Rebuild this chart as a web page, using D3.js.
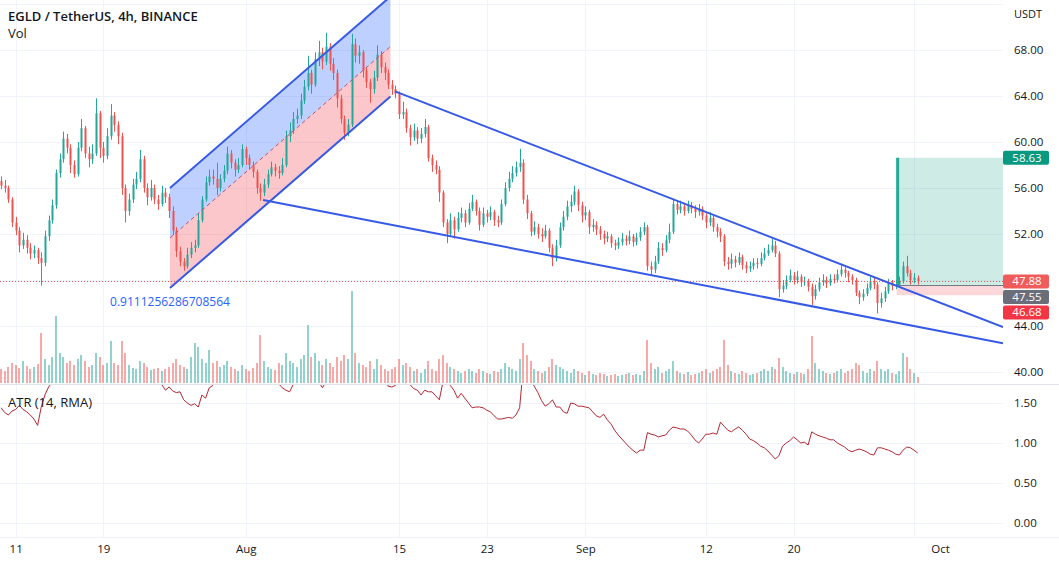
<!DOCTYPE html>
<html>
<head>
<meta charset="utf-8">
<script src="https://cdn.jsdelivr.net/npm/d3@7"></script>
<style>
  body { margin: 0; background: #fff; }
  svg { display: block; }
  text { font-family: "Open Sans", "Noto Sans", sans-serif; }
</style>
</head>
<body>
<svg id="chart" width="1059" height="565"></svg>
<script>
// EGLD / USDT, one bar every 8h from 2021-07-09 16:00 UTC
var barStart = "2021-07-09T16:00:00Z";
var barHours = 8;

var opens = [
  56.6,56.2,56.0,55.0,53.0,52.3,51.0,51.5,50.8,50.3,
  50.6,49.9,49.5,51.8,53.2,54.5,57.3,58.5,60.3,59.5,
  58.0,57.2,59.5,61.2,59.0,58.5,59.0,62.5,59.5,58.8,
  60.5,62.3,61.5,60.5,56.0,54.0,55.0,56.3,56.8,58.5,
  56.0,55.2,56.0,55.0,54.6,55.6,55.2,54.0,52.3,50.5,
  49.6,49.2,50.2,50.8,51.0,53.2,55.0,56.5,57.0,56.8,
  56.0,56.8,57.5,59.0,58.2,57.6,58.0,59.4,58.6,58.0,
  57.4,56.0,55.6,56.3,57.2,57.8,57.5,57.3,58.0,60.5,
  61.0,62.0,62.3,63.6,64.8,66.0,65.0,67.2,67.8,67.0,
  68.3,66.8,66.0,63.8,62.0,60.8,61.5,68.5,67.5,67.8,
  66.2,65.2,64.6,65.6,67.6,66.5,66.0,65.0,64.6,64.2,
  62.4,62.6,61.2,60.4,61.0,60.3,60.7,61.3,58.6,58.0,
  57.6,55.6,53.0,52.0,53.2,52.4,53.4,53.8,53.0,54.2,
  54.8,54.0,52.8,53.8,53.5,53.9,53.2,53.0,54.6,56.0,
  56.8,57.3,57.8,58.2,55.0,53.8,52.2,52.6,52.0,51.8,
  52.3,50.8,49.9,51.0,52.6,53.5,54.4,54.8,55.7,54.5,
  53.6,53.9,52.6,52.8,52.4,52.0,51.6,51.8,51.2,51.0,
  51.3,51.6,51.4,51.8,51.3,51.7,52.2,52.6,49.2,48.9,
  49.6,50.8,50.6,51.5,52.2,54.6,54.1,54.4,54.0,54.5,
  54.2,53.9,54.2,53.6,53.0,53.4,52.6,52.2,51.8,49.6,
  49.4,49.8,49.5,50.0,49.3,49.0,49.2,49.5,49.4,49.9,
  50.3,50.6,51.0,50.3,47.2,47.5,48.0,48.4,48.0,48.3,
  47.8,47.9,47.4,46.6,47.2,47.8,48.0,47.7,48.1,48.0,
  48.5,48.9,48.6,48.3,48.0,46.9,46.5,46.8,47.3,47.9,
  47.6,46.0,46.4,47.0,47.8,47.5,47.6,47.9,49.2,48.6,
  48.0,48.2
];
var highs = [
  57.0,56.7,56.2,55.2,53.5,52.6,52.1,51.9,51.2,51.0,
  50.8,50.4,52.3,53.6,55.0,57.6,59.0,60.9,60.7,59.8,
  58.4,60.0,62.0,61.4,59.6,59.8,63.8,62.7,60.0,61.2,
  63.3,62.6,61.8,60.8,56.3,55.5,56.8,57.4,59.3,58.8,
  56.4,56.7,56.3,55.4,56.2,56.0,55.5,54.4,52.6,50.9,
  49.9,50.8,51.3,51.5,53.8,55.3,57.0,57.6,57.6,58.2,
  57.2,58.0,59.6,59.3,58.5,58.6,59.8,59.6,58.9,58.3,
  57.6,56.4,56.8,57.6,58.3,58.1,57.9,58.6,61.0,61.7,
  62.6,62.9,64.2,65.4,67.5,66.3,67.8,68.8,68.2,69.5,
  68.6,67.3,66.3,64.1,62.3,62.0,69.4,69.0,68.4,68.0,
  66.5,65.5,66.2,68.4,67.9,66.9,66.3,65.4,64.9,64.4,
  63.5,62.9,61.5,61.6,61.3,61.2,62.0,61.5,58.9,58.4,
  57.9,55.8,53.3,53.8,53.5,53.9,54.3,54.1,54.7,55.4,
  55.0,54.3,54.3,54.1,54.4,54.1,53.6,55.0,56.5,57.4,
  57.9,58.3,59.4,58.5,55.4,54.0,53.1,52.9,52.5,52.8,
  52.5,51.1,51.5,53.0,54.0,54.9,55.4,56.2,55.9,54.8,
  54.4,54.1,53.3,53.1,52.7,52.3,52.2,52.0,51.5,51.7,
  52.1,51.9,52.3,52.0,52.1,52.6,53.0,52.8,49.6,50.1,
  51.3,51.2,51.9,52.9,55.0,54.9,54.9,54.7,54.9,54.8,
  54.5,54.6,54.4,53.9,53.9,53.6,52.9,52.5,52.0,50.0,
  50.3,50.1,50.4,50.2,49.6,49.6,49.9,49.9,50.4,50.8,
  51.1,51.6,51.4,50.5,48.0,48.4,48.9,48.7,48.8,48.5,
  48.3,48.1,47.7,47.6,48.2,48.5,48.3,48.5,48.5,48.9,
  49.3,49.1,48.8,48.5,48.2,47.1,47.2,47.7,48.3,48.2,
  47.8,46.9,47.4,48.1,48.0,48.0,48.3,49.6,50.1,48.9,
  48.6,48.4
];
var lows = [
  55.9,55.6,54.7,52.6,51.9,50.4,50.7,50.3,49.8,49.9,
  49.4,47.5,49.2,51.4,52.9,54.2,56.9,58.2,59.0,57.3,
  56.9,57.0,59.2,58.6,57.8,58.1,58.8,58.6,58.2,58.5,
  60.2,60.9,59.8,55.4,53.0,53.6,54.7,55.9,56.5,55.6,
  54.5,54.9,54.6,54.1,54.4,54.7,53.4,51.9,50.0,49.2,
  48.8,49.0,49.9,50.4,50.8,53.0,54.8,56.2,56.3,55.4,
  55.7,56.5,57.2,57.7,57.0,57.3,57.8,58.0,57.6,56.9,
  55.5,54.9,55.3,56.0,57.0,57.0,56.8,57.1,57.8,60.0,
  60.7,61.6,62.0,63.3,64.5,64.2,64.8,66.6,66.3,66.7,
  66.2,65.4,63.0,61.6,60.2,60.5,61.3,66.9,66.8,65.6,
  64.7,63.4,64.2,65.3,66.0,65.4,64.6,64.1,63.8,62.0,
  62.0,60.8,59.7,60.1,59.8,59.9,60.4,58.3,57.4,57.2,
  54.8,52.6,51.2,51.8,51.6,52.2,53.0,52.6,52.8,54.0,
  53.6,52.3,52.6,53.0,53.2,52.7,52.6,52.8,54.4,55.7,
  56.5,57.0,57.4,54.6,53.3,51.8,51.9,51.6,51.3,51.6,
  50.4,49.2,49.6,50.8,52.3,53.2,53.9,54.5,54.0,53.0,
  53.2,52.0,52.2,51.9,51.5,51.1,51.3,50.8,50.6,50.7,
  51.0,51.0,51.1,50.9,51.0,51.4,51.9,48.8,48.4,48.6,
  49.4,50.1,50.4,51.2,52.0,53.7,53.8,53.6,53.8,53.8,
  53.4,53.6,53.2,52.5,52.7,52.2,51.7,51.3,49.2,48.9,
  49.0,49.1,49.3,48.9,48.6,48.7,48.9,49.0,49.2,49.7,
  50.1,50.4,50.0,46.5,46.9,47.2,47.8,47.6,47.7,47.4,
  47.5,47.0,45.8,46.3,47.0,47.5,47.3,47.5,47.7,47.8,
  48.3,48.2,47.8,47.6,46.6,45.9,46.2,46.6,47.1,47.2,
  45.1,45.6,46.1,46.8,47.1,47.2,47.4,47.7,48.3,47.6,
  47.7,47.6
];
var closes = [
  56.2,56.0,55.0,53.0,52.3,51.0,51.5,50.8,50.3,50.6,
  49.9,49.5,51.8,53.2,54.5,57.3,58.5,60.3,59.5,58.0,
  57.2,59.5,61.2,59.0,58.5,59.0,62.5,59.5,58.8,60.5,
  62.3,61.5,60.5,56.0,54.0,55.0,56.3,56.8,58.5,56.0,
  55.2,56.0,55.0,54.6,55.6,55.2,54.0,52.3,50.5,49.6,
  49.2,50.2,50.8,51.0,53.2,55.0,56.5,57.0,56.8,56.0,
  56.8,57.5,59.0,58.2,57.6,58.0,59.4,58.6,58.0,57.4,
  56.0,55.6,56.3,57.2,57.8,57.5,57.3,58.0,60.5,61.0,
  62.0,62.3,63.6,64.8,66.0,65.0,67.2,67.8,67.0,68.3,
  66.8,66.0,63.8,62.0,60.8,61.5,68.5,67.5,67.8,66.2,
  65.2,64.6,65.6,67.6,66.5,66.0,65.0,64.6,64.2,62.4,
  62.6,61.2,60.4,61.0,60.3,60.7,61.3,58.6,58.0,57.6,
  55.6,53.0,52.0,53.2,52.4,53.4,53.8,53.0,54.2,54.8,
  54.0,52.8,53.8,53.5,53.9,53.2,53.0,54.6,56.0,56.8,
  57.3,57.8,58.2,55.0,53.8,52.2,52.6,52.0,51.8,52.3,
  50.8,49.9,51.0,52.6,53.5,54.4,54.8,55.7,54.5,53.6,
  53.9,52.6,52.8,52.4,52.0,51.6,51.8,51.2,51.0,51.3,
  51.6,51.4,51.8,51.3,51.7,52.2,52.6,49.2,48.9,49.6,
  50.8,50.6,51.5,52.2,54.6,54.1,54.4,54.0,54.5,54.2,
  53.9,54.2,53.6,53.0,53.4,52.6,52.2,51.8,49.6,49.4,
  49.8,49.5,50.0,49.3,49.0,49.2,49.5,49.4,49.9,50.3,
  50.6,51.0,50.3,47.2,47.5,48.0,48.4,48.0,48.3,47.8,
  47.9,47.4,46.6,47.2,47.8,48.0,47.7,48.1,48.0,48.5,
  48.9,48.6,48.3,48.0,46.9,46.5,46.8,47.3,47.9,47.6,
  46.0,46.4,47.0,47.8,47.5,47.6,47.9,49.2,48.6,48.0,
  48.2,47.88
];
var volumes = [
  14,12,16,20,18,15,22,17,14,16,
  19,50,24,18,26,67,30,26,20,22,
  18,24,28,22,16,18,30,26,18,20,
  42,20,18,42,30,18,15,14,22,20,
  16,13,14,15,12,14,16,20,24,18,
  16,14,26,40,36,24,20,33,20,22,
  16,18,22,16,14,12,18,14,12,15,
  20,48,22,16,14,13,20,18,30,22,
  20,16,24,28,58,26,30,22,18,24,
  20,16,26,22,28,24,92,30,20,18,
  16,22,14,24,18,14,12,14,16,24,
  18,20,16,12,14,10,14,22,14,12,
  24,28,20,16,14,12,10,12,14,12,
  10,14,12,10,9,12,11,14,20,16,
  14,12,24,40,28,22,14,12,10,12,
  16,24,18,16,14,12,10,14,12,10,
  8,12,9,8,10,9,7,8,9,7,
  8,9,10,8,9,8,12,43,20,14,
  16,10,12,14,22,12,10,9,11,8,
  9,10,12,14,10,12,14,16,43,18,
  12,10,9,12,10,8,9,10,12,14,
  12,16,14,25,16,12,10,9,11,10,
  9,14,47,20,14,12,10,9,10,12,
  14,10,12,14,20,18,12,10,14,12,
  22,14,12,14,10,9,12,30,26,14,
  10,6
];
var atrValues = [
  1.44,1.38,1.35,1.40,1.42,1.47,1.42,1.39,1.35,1.30,
  1.22,1.45,1.60,1.70,1.76,1.95,2.05,2.10,2.08,2.06,
  2.02,2.05,2.10,2.12,2.06,2.02,2.15,2.18,2.10,2.08,
  2.12,2.05,2.00,2.15,2.12,2.05,1.98,1.94,1.96,1.95,
  1.90,1.86,1.82,1.78,1.73,1.66,1.70,1.65,1.63,1.64,
  1.54,1.50,1.47,1.49,1.45,1.60,1.56,1.69,1.72,1.78,
  1.85,1.90,1.95,1.92,1.88,1.84,1.86,1.83,1.80,1.78,
  1.82,1.88,1.85,1.82,1.80,1.78,1.74,1.69,1.66,1.64,
  1.73,1.78,1.82,1.86,1.82,1.86,1.80,1.76,1.69,1.77,
  1.85,1.88,1.95,1.98,2.00,1.96,2.20,2.18,2.12,2.08,
  2.02,1.98,1.95,1.92,1.88,1.84,1.71,1.70,1.72,1.78,
  1.79,1.76,1.73,1.68,1.66,1.60,1.66,1.64,1.64,1.59,
  1.54,1.76,1.78,1.72,1.66,1.56,1.62,1.56,1.50,1.44,
  1.45,1.45,1.44,1.41,1.39,1.34,1.30,1.30,1.31,1.32,
  1.31,1.35,1.44,1.95,1.90,1.78,1.71,1.63,1.53,1.46,
  1.49,1.54,1.45,1.45,1.39,1.37,1.50,1.49,1.46,1.46,
  1.45,1.44,1.39,1.34,1.32,1.36,1.29,1.24,1.16,1.10,
  1.05,1.00,0.95,0.91,0.875,0.91,0.91,1.13,1.11,1.10,
  1.075,1.09,1.10,1.16,1.20,1.19,1.175,1.175,1.15,1.10,
  1.04,1.00,1.05,1.11,1.11,1.125,1.11,1.26,1.21,1.16,
  1.14,1.175,1.20,1.16,1.11,1.05,1.03,1.00,0.96,0.94,
  0.90,0.85,0.80,0.84,0.96,1.00,1.03,1.075,1.04,1.00,
  1.01,0.975,1.14,1.11,1.09,1.075,1.06,1.04,1.04,1.00,
  0.975,0.95,0.91,0.89,0.91,0.925,0.91,0.89,0.86,0.85,
  0.94,0.94,0.925,0.91,0.89,0.86,0.85,0.91,0.95,0.94,
  0.91,0.875
];

// axis ticks
var dateTicks = ["2021-07-11","2021-07-19","2021-08-01","2021-08-15","2021-08-23","2021-09-01","2021-09-12","2021-09-20","2021-10-01"];
var dateTickLabels = ["11","19","Aug","15","23","Sep","12","20","Oct"];
var priceGrid = [40,44,48,52,56,60,64,68,72];
var priceLabels = [40,44,48,52,56,60,64,68];
var atrTicks = [0,0.5,1,1.5];

// drawings
var channelDates = ["2021-07-25T02:00:00Z","2021-08-14T05:00:00Z"];
var channelLower = [47.3, 63.95];
var channelUpper = [56.0, 72.65];
var wedgeUpperDates = ["2021-08-14T15:00:00Z","2021-10-09T03:00:00Z"];
var wedgeUpperPrices = [64.4, 43.9];
var wedgeLowerDates = ["2021-08-02T14:00:00Z","2021-10-09T03:00:00Z"];
var wedgeLowerPrices = [54.95, 42.5];
var channelText = "0.9111256286708564";
var positionDates = ["2021-09-29T10:00:00Z","2021-10-12T00:00:00Z"];
var entryPrice = 47.55, targetPrice = 58.63, stopPrice = 46.68, lastPrice = 47.88;

// layout
var plotRight = 1003, mainBottom = 384, atrTop = 385, atrBottom = 537;
var green = "#26a69a", red = "#ef5350", blue = "#3659e6", ink = "#131722";

var svg = d3.select("#chart");
var defs = svg.append("defs");
defs.append("clipPath").attr("id", "clipMain").append("rect")
  .attr("x", 0).attr("y", 0).attr("width", plotRight).attr("height", mainBottom);
defs.append("clipPath").attr("id", "clipAtr").append("rect")
  .attr("x", 0).attr("y", atrTop).attr("width", plotRight).attr("height", atrBottom - atrTop);

var x = d3.scaleUtc()
  .domain([new Date("2021-07-11T00:00:00Z"), new Date("2021-09-20T00:00:00Z")])
  .range([15.7, 793.5]);
var y = d3.scaleLinear().domain([40, 68]).range([372, 50]);
var yVol = d3.scaleLinear().domain([0, 100]).range([383, 283]);
var yAtr = d3.scaleLinear().domain([0, 1.5]).range([523, 403]);

var t0 = new Date(barStart).getTime();
var bars = closes.map(function(c, i) {
  return { t: new Date(t0 + i * barHours * 3600000), o: opens[i], h: highs[i], l: lows[i], c: c, v: volumes[i], atr: atrValues[i] };
});

var px = function(v) { return Math.round(v) + 0.5; };

// grid
var grid = svg.append("g").attr("stroke", "#f0f3fa").attr("stroke-width", 1);
grid.selectAll(".vg").data(dateTicks).enter().append("line")
  .attr("x1", function(d) { return px(x(new Date(d))); })
  .attr("x2", function(d) { return px(x(new Date(d))); })
  .attr("y1", 0).attr("y2", atrBottom);
grid.selectAll(".hg").data(priceGrid).enter().append("line")
  .attr("x1", 0).attr("x2", plotRight)
  .attr("y1", function(d) { return px(y(d)); })
  .attr("y2", function(d) { return px(y(d)); });
grid.selectAll(".ag").data(atrTicks).enter().append("line")
  .attr("x1", 0).attr("x2", plotRight)
  .attr("y1", function(d) { return px(yAtr(d)); })
  .attr("y2", function(d) { return px(yAtr(d)); });

// pane borders
svg.append("line").attr("x1", 0).attr("x2", 1059).attr("y1", mainBottom + 0.5).attr("y2", mainBottom + 0.5)
  .attr("stroke", "#e0e3eb");
svg.append("line").attr("x1", 0).attr("x2", 1059).attr("y1", atrBottom + 0.5).attr("y2", atrBottom + 0.5)
  .attr("stroke", "#eef0f5");

var main = svg.append("g").attr("clip-path", "url(#clipMain)");

// long position tool
var posX0 = x(new Date(positionDates[0])), posX1 = Math.min(plotRight, x(new Date(positionDates[1])));
main.append("rect").attr("x", posX0).attr("width", posX1 - posX0)
  .attr("y", y(targetPrice)).attr("height", y(entryPrice) - y(targetPrice))
  .attr("fill", "rgba(8,153,129,0.2)");
main.append("rect").attr("x", posX0).attr("width", posX1 - posX0)
  .attr("y", y(entryPrice)).attr("height", y(stopPrice) - y(entryPrice))
  .attr("fill", "rgba(242,54,69,0.2)");

// parallel channel fills
var cd = channelDates.map(function(d) { return new Date(d); });
var mid = [(channelLower[0] + channelUpper[0]) / 2, (channelLower[1] + channelUpper[1]) / 2];
var area = d3.line().x(function(d) { return x(d[0]); }).y(function(d) { return y(d[1]); });
main.append("path").attr("d", area([[cd[0], channelUpper[0]], [cd[1], channelUpper[1]], [cd[1], mid[1]], [cd[0], mid[0]]]) + "Z")
  .attr("fill", "rgba(41,98,255,0.3)");
main.append("path").attr("d", area([[cd[0], mid[0]], [cd[1], mid[1]], [cd[1], channelLower[1]], [cd[0], channelLower[0]]]) + "Z")
  .attr("fill", "rgba(242,54,69,0.28)");

// volume
main.append("g").selectAll("rect").data(bars).enter().append("rect")
  .attr("x", function(d) { return Math.round(x(d.t)) - 1; })
  .attr("width", 2)
  .attr("y", function(d) { return yVol(d.v); })
  .attr("height", function(d) { return yVol(0) - yVol(d.v); })
  .attr("fill", function(d) { return d.c >= d.o ? "rgba(38,166,154,0.5)" : "rgba(239,83,80,0.5)"; });

// candles
var cg = main.append("g");
cg.selectAll("line").data(bars).enter().append("line")
  .attr("x1", function(d) { return px(x(d.t)); })
  .attr("x2", function(d) { return px(x(d.t)); })
  .attr("y1", function(d) { return y(Math.max(d.h, d.o, d.c)); })
  .attr("y2", function(d) { return y(Math.min(d.l, d.o, d.c)); })
  .attr("stroke", function(d) { return d.c >= d.o ? green : red; });
cg.selectAll("rect").data(bars).enter().append("rect")
  .attr("x", function(d) { return Math.round(x(d.t)) - 0.5; })
  .attr("width", 2)
  .attr("y", function(d) { return y(Math.max(d.o, d.c)); })
  .attr("height", function(d) { return Math.max(1, Math.abs(y(d.o) - y(d.c))); })
  .attr("fill", function(d) { return d.c >= d.o ? green : red; });

// last price line
main.append("line").attr("x1", 0).attr("x2", plotRight)
  .attr("y1", px(y(lastPrice))).attr("y2", px(y(lastPrice)))
  .attr("stroke", red).attr("stroke-dasharray", "1,2");

// position tool edges
main.append("line").attr("x1", posX0).attr("x2", posX1)
  .attr("y1", px(y(entryPrice))).attr("y2", px(y(entryPrice)))
  .attr("stroke", "#787b86").attr("stroke-width", 1);
main.append("line").attr("x1", posX0 + 1).attr("x2", posX0 + 1)
  .attr("y1", y(targetPrice)).attr("y2", y(entryPrice))
  .attr("stroke", "#22ab94").attr("stroke-width", 3);

// channel lines
var seg = d3.line().x(function(d) { return x(d[0]); }).y(function(d) { return y(d[1]); });
main.append("path").attr("d", seg([[cd[0], mid[0]], [cd[1], mid[1]]]))
  .attr("stroke", "#c0506a").attr("stroke-width", 1).attr("stroke-dasharray", "4,3").attr("fill", "none");
[[channelUpper, channelDates], [channelLower, channelDates], [wedgeUpperPrices, wedgeUpperDates], [wedgeLowerPrices, wedgeLowerDates]]
  .forEach(function(s) {
    main.append("path")
      .attr("d", seg(s[1].map(function(d, i) { return [new Date(d), s[0][i]]; })))
      .attr("stroke", blue).attr("stroke-width", 2).attr("fill", "none");
  });

main.append("text").attr("x", x(cd[0])).attr("y", y(channelLower[0]) + 18)
  .attr("text-anchor", "middle").attr("font-size", 12).attr("fill", "#2962ff")
  .text(channelText);

// ATR pane
var atrLine = d3.line().x(function(d) { return x(d.t); }).y(function(d) { return yAtr(d.atr); });
svg.append("g").attr("clip-path", "url(#clipAtr)").append("path")
  .attr("d", atrLine(bars)).attr("fill", "none").attr("stroke", "#b22833").attr("stroke-width", 1);

// price axis
var gy = svg.append("g").attr("transform", "translate(" + plotRight + ",0)")
  .call(d3.axisRight(y).tickValues(priceLabels).tickFormat(d3.format(".2f")).tickSize(0).tickPadding(11));
gy.select(".domain").remove();
gy.selectAll("text").attr("font-size", 11.5).attr("fill", ink).style("font-family", "'Open Sans', sans-serif");

var ga = svg.append("g").attr("transform", "translate(" + plotRight + ",0)")
  .call(d3.axisRight(yAtr).tickValues(atrTicks).tickFormat(d3.format(".2f")).tickSize(0).tickPadding(11));
ga.select(".domain").remove();
ga.selectAll("text").attr("font-size", 11.5).attr("fill", ink).style("font-family", "'Open Sans', sans-serif");

svg.append("text").attr("x", 1014).attr("y", 18).attr("font-size", 11).attr("fill", ink).text("USDT");

// price labels on the axis
var tags = [
  { v: targetPrice, fill: "#089981" },
  { v: lastPrice, fill: "#f05b5b" },
  { v: entryPrice, fill: "#6b6e78" },
  { v: stopPrice, fill: "#f23645" }
];
tags.forEach(function(d) { d.cy = y(d.v); });
tags.sort(function(a, b) { return a.cy - b.cy; });
for (var i = 1; i < tags.length; i++) {
  if (tags[i].cy - tags[i - 1].cy < 15.5) tags[i].cy = tags[i - 1].cy + 15.5;
}
var tg = svg.append("g").selectAll("g").data(tags).enter().append("g");
tg.append("rect").attr("x", plotRight).attr("width", 46).attr("height", 14)
  .attr("y", function(d) { return d.cy - 7; }).attr("rx", 2)
  .attr("fill", function(d) { return d.fill; });
tg.append("text").attr("x", plotRight + 24).attr("y", function(d) { return d.cy + 4; })
  .attr("text-anchor", "middle").attr("font-size", 11.5).attr("fill", "#fff")
  .text(function(d) { return d.v.toFixed(2); });

// time axis
var gx = svg.append("g").attr("transform", "translate(0,545)")
  .call(d3.axisBottom(x).tickValues(dateTicks.map(function(d) { return new Date(d); }))
    .tickFormat(function(d, i) { return dateTickLabels[i]; }).tickSize(0).tickPadding(0));
gx.select(".domain").remove();
gx.selectAll("text").attr("font-size", 11.5).attr("fill", ink).style("font-family", "'Open Sans', sans-serif");
gx.selectAll(".tick").filter(function(d, i) { return dateTickLabels[i] === "Oct"; }).select("text").attr("dx", 26);

// legends
svg.append("text").attr("x", 8).attr("y", 21).attr("font-size", 13).attr("font-weight", 600).attr("fill", ink)
  .text("EGLD / TetherUS, 4h, BINANCE");
svg.append("text").attr("x", 8).attr("y", 38).attr("font-size", 13).attr("fill", ink).text("Vol");
svg.append("text").attr("x", 8).attr("y", 407).attr("font-size", 13).attr("fill", ink).text("ATR (14, RMA)");
</script>
</body>
</html>
